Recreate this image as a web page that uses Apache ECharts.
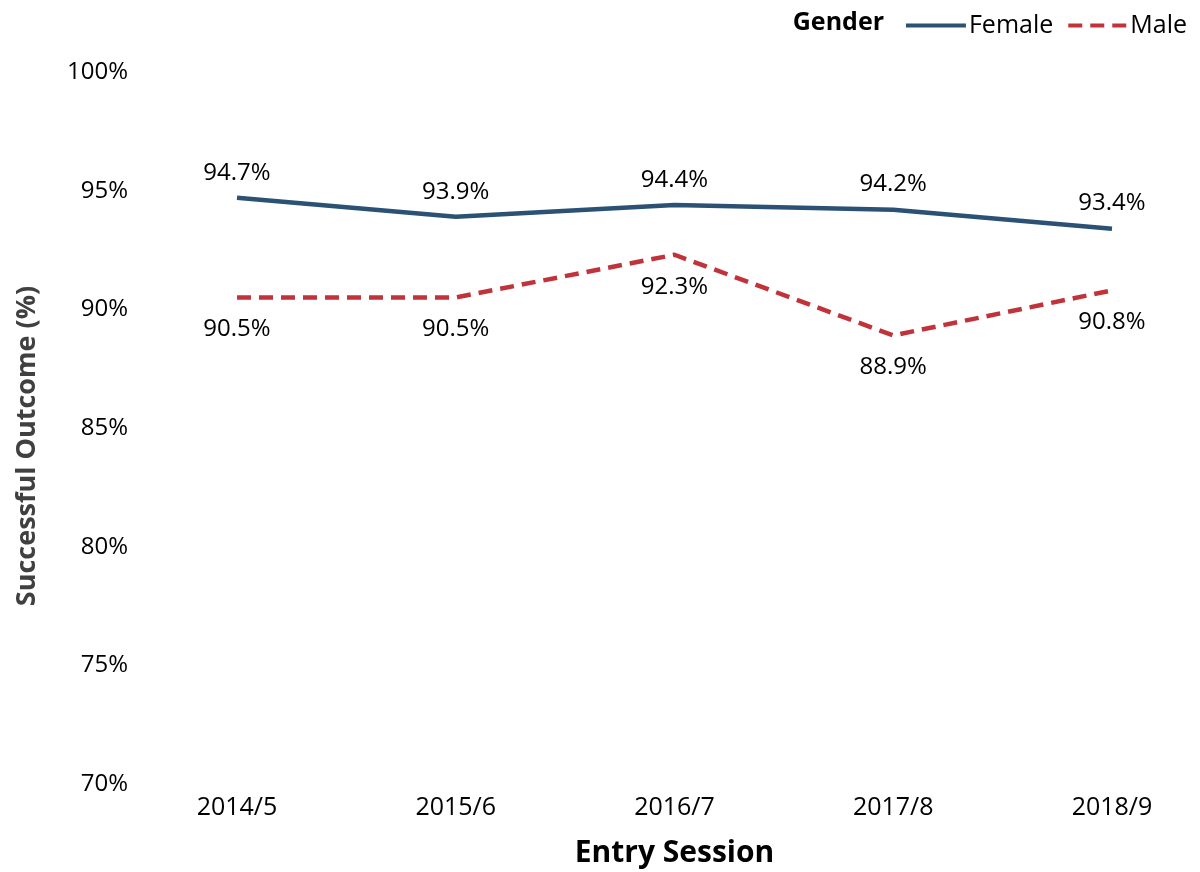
<!DOCTYPE html>
<html>
<head>
<meta charset="utf-8">
<script src="https://cdn.jsdelivr.net/npm/echarts@6/dist/echarts.min.js"></script>
<style>
  html, body { margin: 0; padding: 0; background: #fff; }
  #chart { width: 1200px; height: 872px; }
</style>
</head>
<body>
<div id="chart"></div>
<script>
var sessions = ['2014/5', '2015/6', '2016/7', '2017/8', '2018/9'];
var female = [94.7, 93.9, 94.4, 94.2, 93.4];
var male = [90.5, 90.5, 92.3, 88.9, 90.8];
var yTicks = [70, 75, 80, 85, 90, 95, 100];

var font = '"Open Sans", "Noto Sans", sans-serif';
var colors = ['#2b5175', '#c0333b'];

var myChart = echarts.init(document.getElementById('chart'));
var option = {
  color: colors,
  textStyle: { fontFamily: font },
  grid: { left: 237, right: 88, top: 72, bottom: 88, outerBoundsMode: 'none' },
  graphic: [{
    type: 'text',
    right: 316,
    top: 10,
    style: { text: 'Gender', font: 'bold 25px ' + font, fill: '#000' }
  }],
  legend: {
    right: 8,
    top: 8,
    itemWidth: 60,
    itemHeight: 4,
    itemGap: 15,
    textStyle: { fontSize: 25, color: '#000', fontFamily: font, padding: [0, 0, 0, -2] },
    data: [
      { name: 'Female', icon: 'rect' },
      { name: 'Male', icon: 'path://M0,0h14v4h-14zM22,0h14v4h-14zM44,0h14v4h-14z' }
    ]
  },
  xAxis: {
    type: 'category',
    data: sessions,
    boundaryGap: false,
    axisLine: { show: false },
    axisTick: { show: false },
    axisLabel: { fontSize: 25, color: '#000', margin: 11, fontFamily: font },
    name: 'Entry Session',
    nameLocation: 'middle',
    nameGap: 54,
    nameTextStyle: { fontSize: 30, fontWeight: 'bold', color: '#000', fontFamily: font }
  },
  yAxis: {
    type: 'value',
    min: yTicks[0],
    max: yTicks[yTicks.length - 1],
    interval: 5,
    splitLine: { show: false },
    axisLine: { show: false },
    axisTick: { show: false },
    axisLabel: {
      fontSize: 24, color: '#000', margin: 109, fontFamily: font,
      formatter: function (v) { return v + '%'; }
    },
    name: 'Successful Outcome (%)',
    nameLocation: 'middle',
    nameGap: 196,
    nameTextStyle: {
      fontSize: 27, fontWeight: 'bold', color: '#404040', fontFamily: font,
      padding: [0, 36, 0, 0]
    }
  },
  series: [
    {
      name: 'Female',
      type: 'line',
      data: female,
      symbol: 'circle',
      symbolSize: 0,
      lineStyle: { width: 4.5, color: colors[0] },
      label: {
        show: true, position: 'top', distance: 13,
        fontSize: 24, color: '#000', fontFamily: font,
        formatter: function (p) { return p.value.toFixed(1) + '%'; }
      }
    },
    {
      name: 'Male',
      type: 'line',
      data: male,
      symbol: 'circle',
      symbolSize: 0,
      lineStyle: { width: 4.5, color: colors[1], type: [14, 8] },
      label: {
        show: true, position: 'bottom', distance: 20,
        fontSize: 24, color: '#000', fontFamily: font,
        formatter: function (p) { return p.value.toFixed(1) + '%'; }
      }
    }
  ]
};
myChart.setOption(option);
</script>
</body>
</html>
